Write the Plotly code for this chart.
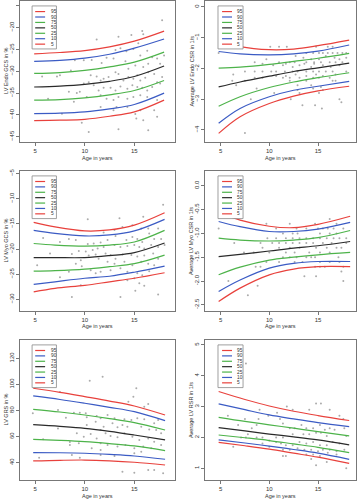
import plotly.graph_objects as go

# ---------------- data ----------------
percentiles = ["95", "90", "75", "50", "25", "10", "5"]
pct_colors = ["#e8413c", "#3b5bc4", "#4db34a", "#2a2a2a", "#4db34a", "#3b5bc4", "#e8413c"]

# Panel 1: LV Endo GCS in %
endo_gcs_ages = [4.9, 7.5, 10, 12.5, 15, 18.0]
endo_gcs_curves = [
    [-26.0, -25.7, -25.25, -24.4, -23.1, -20.8],
    [-27.75, -27.5, -27.0, -26.1, -24.7, -22.6],
    [-30.5, -30.3, -29.8, -29.0, -27.9, -25.6],
    [-33.6, -33.4, -33.0, -32.3, -31.2, -28.8],
    [-36.6, -36.5, -36.1, -35.4, -34.4, -32.1],
    [-39.7, -39.6, -39.3, -38.6, -37.6, -35.0],
    [-41.3, -41.2, -41.0, -40.3, -39.3, -36.6],
]
endo_gcs_points = [
    (17.8, -18.3), (15.8, -20.8), (15.9, -21.5), (14.7, -21.7), (13.4, -22.1), (11.2, -22.7),
    (13.1, -25.1), (13.6, -24.7), (14.2, -25.4), (14.9, -24.9), (15.4, -23.6), (15.6, -26.4),
    (16.3, -25.3), (16.8, -26.8), (17.3, -27.1), (17.6, -28.3), (18.0, -26.4), (16.4, -28.3),
    (15.9, -29.0), (15.1, -28.7), (14.4, -29.4), (14.1, -27.7), (12.9, -27.1), (12.2, -26.9),
    (11.7, -28.1), (10.7, -27.4), (9.9, -27.5), (9.0, -27.5), (8.6, -29.8), (7.5, -30.9),
    (7.2, -31.2), (5.7, -31.2), (10.6, -30.9), (11.2, -31.2), (11.6, -32.1), (11.9, -31.7),
    (12.4, -31.3), (13.1, -30.2), (13.4, -30.6), (13.9, -32.1), (14.4, -31.3), (14.9, -31.7),
    (15.3, -30.9), (15.6, -32.1), (16.1, -31.5), (16.4, -30.2), (17.0, -30.6), (17.3, -32.5),
    (17.6, -32.8), (17.8, -31.3), (16.8, -33.6), (16.3, -34.4), (15.8, -33.8), (15.3, -33.6),
    (14.8, -33.2), (14.3, -34.0), (13.6, -33.5), (13.1, -34.4), (12.6, -33.8), (11.9, -33.8),
    (11.4, -34.4), (10.9, -33.2), (10.4, -32.5), (9.9, -32.8), (9.5, -34.7), (9.2, -35.0),
    (8.4, -34.7), (6.3, -36.3), (8.9, -37.0), (10.2, -35.9), (11.6, -35.5), (12.2, -36.3),
    (12.9, -36.6), (13.4, -35.9), (14.3, -36.3), (14.9, -35.9), (15.6, -35.5), (16.3, -35.9),
    (17.3, -36.6), (13.2, -38.2), (12.9, -38.9), (11.6, -38.2), (14.3, -38.2), (15.1, -39.8),
    (15.2, -40.8), (15.9, -41.2), (17.3, -40.4), (9.7, -41.8), (10.4, -43.9), (13.4, -43.3),
    (16.4, -43.5), (7.7, -39.7), (15.6, -38.9), (17.0, -38.9),
]

# Panel 2: Average LV Endo CSR in 1/s
endo_csr_ages = [4.8, 7, 10, 12.5, 15, 18.2]
endo_csr_curves = [
    [-1.10, -1.29, -1.39, -1.37, -1.26, -1.08],
    [-1.45, -1.53, -1.56, -1.53, -1.44, -1.24],
    [-1.99, -1.96, -1.87, -1.77, -1.67, -1.51],
    [-2.60, -2.44, -2.25, -2.10, -1.98, -1.83],
    [-3.23, -2.92, -2.62, -2.44, -2.30, -2.14],
    [-3.78, -3.30, -2.92, -2.71, -2.58, -2.42],
    [-4.11, -3.57, -3.14, -2.90, -2.73, -2.58],
]
endo_csr_points = [
    (10.1, -1.3), (11.0, -1.3), (11.8, -1.3), (14.8, -1.3), (16.0, -1.3), (16.5, -1.3),
    (13.8, -1.5), (14.5, -1.5), (15.1, -1.5), (15.5, -1.5), (16.0, -1.5), (16.5, -1.5),
    (17.0, -1.5), (17.5, -1.5), (17.9, -1.5), (4.8, -1.5),
    (12.7, -1.6), (13.5, -1.65), (14.3, -1.7), (15.1, -1.7), (15.8, -1.6), (16.7, -1.65),
    (17.2, -1.7), (17.9, -1.65), (9.7, -1.7),
    (11.0, -1.8), (12.1, -1.8), (12.6, -1.8), (13.8, -1.8), (14.6, -1.8), (15.3, -1.8),
    (16.2, -1.8), (16.8, -1.8), (17.5, -1.8), (8.5, -1.8),
    (10.4, -1.9), (11.4, -1.9), (11.7, -1.85), (12.4, -1.95), (13.1, -1.9), (13.6, -1.85),
    (14.3, -1.95), (14.6, -1.85), (15.5, -1.9), (16.3, -1.95), (17.2, -1.9), (9.3, -1.85),
    (7.5, -2.1), (8.5, -2.1), (9.3, -2.1), (10.2, -2.1), (10.7, -2.1), (11.6, -2.1),
    (12.4, -2.1), (12.9, -2.1), (13.8, -2.1), (14.5, -2.1), (15.1, -2.1), (15.8, -2.1),
    (16.5, -2.1), (17.9, -2.1),
    (6.3, -2.2), (10.7, -2.25), (11.7, -2.25), (12.7, -2.2), (13.8, -2.25), (14.8, -2.2),
    (15.5, -2.25), (16.8, -2.2),
    (8.5, -2.3), (9.3, -2.3), (11.4, -2.3), (12.1, -2.3), (13.1, -2.3), (14.5, -2.3),
    (15.1, -2.3), (16.2, -2.3),
    (6.2, -2.4), (7.5, -2.4), (12.1, -2.4), (13.8, -2.4), (16.5, -2.4), (16.8, -2.4),
    (6.6, -2.55), (12.9, -2.55), (14.3, -2.55), (15.3, -2.6),
    (12.9, -2.7), (14.5, -2.65), (15.5, -2.7), (8.7, -2.65),
    (10.5, -2.8), (13.1, -2.8), (15.1, -2.8),
    (8.1, -3.0), (12.2, -3.0), (17.2, -3.0), (17.4, -3.1),
    (13.4, -3.2), (14.7, -3.2), (15.4, -3.3), (7.5, -4.1),
]

# Panel 3: LV Myo GCS in %
myo_gcs_ages = [4.85, 7, 10, 12.5, 15, 18.05]
myo_gcs_curves = [
    [-14.7, -15.6, -16.4, -16.2, -15.25, -12.8],
    [-16.3, -16.9, -17.4, -17.2, -16.4, -14.1],
    [-18.9, -19.2, -19.4, -19.2, -18.6, -16.3],
    [-21.7, -21.7, -21.7, -21.3, -20.7, -18.8],
    [-24.4, -24.3, -24.0, -23.5, -22.9, -21.2],
    [-27.0, -26.5, -25.8, -25.4, -24.6, -23.4],
    [-28.5, -27.8, -27.2, -26.5, -25.8, -24.7],
]
myo_gcs_points = [
    (17.9, -11.2), (15.9, -13.6), (13.5, -13.9), (10.3, -14.1), (14.8, -15.25), (13.8, -15.6),
    (16.4, -15.9), (17.4, -15.9), (15.7, -15.9), (13.0, -16.2), (11.9, -16.7), (8.4, -18.0),
    (5.8, -17.8), (7.5, -18.6), (9.1, -18.2), (10.3, -19.0), (10.9, -18.9), (11.6, -18.7),
    (12.3, -18.2), (13.1, -17.4), (14.2, -18.2), (14.8, -17.6), (15.3, -18.0), (15.8, -18.6),
    (16.5, -16.9), (17.0, -18.0), (17.7, -18.0), (18.05, -19.2), (13.6, -19.6), (14.3, -19.4),
    (15.0, -19.2), (15.5, -19.6), (16.0, -19.9), (16.7, -19.2), (17.4, -19.6), (13.0, -19.2),
    (11.9, -19.6), (11.3, -19.9), (10.8, -20.2), (10.1, -20.5), (9.4, -20.4), (6.5, -20.9),
    (8.7, -21.0), (9.6, -22.2), (10.4, -21.3), (11.1, -21.1), (11.4, -21.9), (12.1, -20.9),
    (12.6, -21.2), (13.1, -21.9), (13.8, -21.1), (14.7, -21.2), (15.3, -21.5), (16.0, -21.3),
    (16.9, -20.9), (17.4, -21.9), (12.3, -22.5), (13.0, -22.9), (14.0, -22.5), (14.8, -23.2),
    (15.7, -22.5), (16.4, -22.9), (17.0, -23.2), (9.1, -22.9), (9.7, -23.4), (13.6, -23.8),
    (14.3, -24.5), (15.3, -24.8), (15.8, -25.2), (16.5, -24.4), (8.4, -24.5), (7.5, -25.6),
    (10.6, -24.2), (11.6, -24.5), (12.6, -24.2), (15.0, -25.8), (15.5, -26.8), (16.0, -27.3),
    (14.3, -26.2), (9.6, -27.2), (15.1, -28.3), (17.4, -29.0), (8.7, -29.5), (13.6, -29.5),
    (11.1, -24.8), (5.2, -23.2),
]

# Panel 4: Average LV Myo CSR in 1/s
myo_csr_ages = [4.8, 7, 10, 12.5, 15, 18.3]
myo_csr_curves = [
    [-0.56, -0.72, -0.85, -0.88, -0.81, -0.64],
    [-0.75, -0.86, -0.96, -0.96, -0.91, -0.77],
    [-1.10, -1.14, -1.16, -1.14, -1.09, -0.94],
    [-1.49, -1.44, -1.37, -1.31, -1.26, -1.17],
    [-1.87, -1.71, -1.56, -1.50, -1.45, -1.40],
    [-2.22, -1.98, -1.73, -1.63, -1.59, -1.59],
    [-2.43, -2.15, -1.87, -1.75, -1.70, -1.70],
]
myo_csr_points = [
    (16.2, -0.7),
    (9.7, -0.8), (12.1, -0.8), (14.7, -0.8), (16.9, -0.8),
    (10.7, -0.9), (12.8, -0.9), (13.8, -0.9), (15.0, -0.9), (15.5, -0.9), (16.0, -0.9),
    (16.6, -0.9), (17.6, -0.9), (4.8, -0.9),
    (11.4, -1.0), (12.4, -1.0), (12.9, -1.0), (15.2, -1.0), (16.2, -1.0), (16.9, -1.0),
    (9.8, -1.1), (10.7, -1.1), (11.7, -1.1), (12.4, -1.1), (13.1, -1.1), (13.8, -1.1),
    (14.5, -1.1), (15.2, -1.1), (15.9, -1.1), (16.6, -1.1), (17.2, -1.1), (17.9, -1.1),
    (6.4, -1.2), (10.3, -1.2), (11.0, -1.2), (11.7, -1.2), (12.4, -1.2), (13.1, -1.2),
    (13.8, -1.2), (14.5, -1.2), (15.5, -1.2), (16.4, -1.2), (17.9, -1.2), (9.1, -1.2),
    (9.3, -1.3), (11.0, -1.3), (12.1, -1.3), (13.1, -1.3), (14.8, -1.3), (15.9, -1.3),
    (16.9, -1.3), (17.4, -1.3),
    (7.4, -1.4), (8.4, -1.4), (10.0, -1.4), (11.7, -1.4), (12.6, -1.4), (14.1, -1.4),
    (15.2, -1.4), (16.2, -1.4),
    (11.4, -1.5), (12.1, -1.5), (12.8, -1.5), (13.8, -1.5), (14.3, -1.5), (14.7, -1.5), (17.1, -1.5),
    (9.7, -1.6), (11.0, -1.6), (12.6, -1.6), (13.4, -1.6), (15.2, -1.6), (16.2, -1.6), (17.2, -1.6),
    (8.6, -1.7), (9.1, -1.7), (14.7, -1.7), (15.2, -1.7), (15.7, -1.7), (17.6, -1.7),
    (17.4, -1.8), (13.6, -1.9), (14.8, -1.9), (5.8, -2.0), (17.6, -2.0), (8.8, -2.1), (7.8, -2.3),
]

# Panel 5: LV GRS in %
grs_ages = [4.8, 7.5, 10, 12.5, 15, 18.1]
grs_curves = [
    [97.0, 93.9, 90.6, 87.2, 83.4, 76.5],
    [91.1, 88.4, 85.5, 82.4, 79.1, 72.2],
    [80.9, 78.8, 76.5, 73.8, 70.7, 65.0],
    [69.1, 67.8, 66.3, 64.0, 61.2, 57.4],
    [57.9, 57.1, 56.1, 54.6, 52.8, 49.2],
    [47.7, 47.6, 47.2, 46.3, 45.1, 42.6],
    [41.3, 41.8, 42.0, 41.4, 40.3, 38.2],
]
grs_points = [
    (11.8, 105.9), (10.5, 102.8), (15.2, 97.0), (14.9, 90.6), (14.4, 86.7), (16.4, 85.0),
    (16.0, 82.9), (7.5, 94.2), (4.76, 77.8), (7.3, 80.4), (9.5, 78.3), (8.9, 78.3),
    (10.1, 77.8), (11.2, 75.8), (10.2, 74.7), (11.6, 74.0), (12.3, 76.5), (13.0, 74.0),
    (14.0, 73.2), (14.7, 72.7), (15.3, 74.0), (16.0, 73.2), (17.0, 70.1), (17.4, 72.7),
    (8.1, 74.5), (12.8, 70.1), (13.3, 67.1), (13.8, 68.9), (14.3, 67.6), (15.7, 67.6),
    (16.5, 65.5), (17.2, 65.0), (17.7, 62.5), (7.3, 66.1), (10.2, 68.9), (11.1, 71.4),
    (11.6, 65.0), (11.9, 67.6), (9.2, 62.5), (9.9, 59.9), (10.6, 62.0), (11.2, 58.6),
    (12.1, 62.5), (12.6, 60.4), (13.3, 59.4), (14.0, 62.5), (14.8, 59.9), (15.5, 57.4),
    (16.4, 58.6), (17.0, 56.1), (17.7, 53.5), (8.5, 55.8), (9.4, 54.8), (11.6, 54.8),
    (12.3, 53.5), (13.3, 52.3), (14.1, 53.5), (15.0, 51.0), (15.9, 52.3), (16.7, 51.0),
    (5.8, 57.9), (8.7, 45.9), (9.5, 43.8), (11.6, 45.9), (13.0, 45.1), (15.0, 47.2),
    (15.7, 48.4), (5.4, 43.8), (13.8, 33.1), (15.0, 32.3), (16.4, 34.4), (17.0, 34.4),
    (17.9, 31.8), (8.5, 53.5), (10.7, 51.0), (11.6, 49.7),
]

# Panel 6: Average LV RSR in 1/s
rsr_ages = [4.8, 7.5, 10, 12.5, 15, 18.2]
rsr_curves = [
    [3.49, 3.23, 3.02, 2.85, 2.71, 2.55],
    [3.09, 2.90, 2.73, 2.60, 2.48, 2.35],
    [2.65, 2.52, 2.41, 2.30, 2.19, 2.05],
    [2.32, 2.21, 2.11, 2.02, 1.92, 1.76],
    [2.08, 1.99, 1.90, 1.79, 1.68, 1.51],
    [1.92, 1.82, 1.72, 1.61, 1.49, 1.29],
    [1.84, 1.73, 1.62, 1.49, 1.36, 1.16],
]
rsr_points = [
    (14.8, 3.1), (15.3, 3.1), (11.8, 3.0), (14.1, 2.9), (16.2, 2.9), (9.0, 2.9), (10.8, 2.8),
    (12.4, 2.9), (5.75, 2.7), (7.5, 2.6), (8.9, 2.6), (9.9, 2.7), (17.2, 2.7), (17.6, 2.6),
    (6.8, 2.4), (8.2, 2.3), (8.7, 2.4), (11.4, 2.45), (12.1, 2.3), (12.6, 2.3), (13.3, 2.4),
    (13.8, 2.3), (14.5, 2.3), (15.2, 2.4), (15.7, 2.25), (16.2, 2.3), (16.7, 2.25), (17.7, 2.3),
    (17.9, 2.05), (15.9, 2.05), (15.3, 2.15), (14.8, 2.15), (14.1, 2.1), (13.5, 2.1), (12.4, 2.1),
    (11.4, 2.0), (10.7, 2.0), (10.0, 1.9), (9.3, 2.0), (8.7, 2.0), (7.6, 2.0), (7.1, 2.0),
    (6.3, 1.7), (7.8, 2.1), (9.3, 1.8), (10.7, 1.85), (11.2, 1.8), (11.7, 1.75), (12.4, 1.75),
    (13.1, 1.85), (13.8, 1.8), (14.5, 1.85), (15.2, 1.75), (15.9, 1.75), (16.5, 1.85), (17.2, 1.8),
    (17.7, 1.6), (16.9, 1.55), (16.2, 1.6), (15.5, 1.6), (15.0, 1.55), (14.3, 1.6), (13.6, 1.6),
    (12.9, 1.65), (12.1, 1.6), (11.4, 1.6), (14.5, 1.45), (13.8, 1.45), (15.2, 1.4), (16.0, 1.5),
    (16.9, 1.45), (11.4, 1.4), (11.7, 1.4), (14.3, 1.3), (15.9, 1.2), (14.8, 1.1), (17.9, 1.0),
    (11.1, 2.6), (10.0, 1.7), (7.6, 4.4),
]

y_titles = ["LV Endo GCS in %", "Average LV Endo CSR in 1/s", "LV Myo GCS in %",
            "Average LV Myo CSR in 1/s", "LV GRS in %", "Average LV RSR in 1/s"]
x_title = "Age in years"
x_ticks = [5, 10, 15]
y_ticks = [
    [-45, -40, -35, -30, -25, -20, -15],
    [-4, -3, -2, -1, 0],
    [-30, -25, -20, -15, -10, -5],
    [-2.5, -2.0, -1.5, -1.0, -0.5, 0.0],
    [40, 60, 80, 100, 120],
    [1, 2, 3, 4, 5],
]
y_tick_text = [
    None, None, None,
    ["-2.5", "-2.0", "-1.5", "-1.0", "-0.5", "0.0"],
    None, None,
]

panels = [
    (endo_gcs_ages, endo_gcs_curves, endo_gcs_points),
    (endo_csr_ages, endo_csr_curves, endo_csr_points),
    (myo_gcs_ages, myo_gcs_curves, myo_gcs_points),
    (myo_csr_ages, myo_csr_curves, myo_csr_points),
    (grs_ages, grs_curves, grs_points),
    (rsr_ages, rsr_curves, rsr_points),
]

# ---------------- layout ----------------
W, H = 361, 500
x_domains = [[20 / W, 175 / W], [205 / W, 356 / W]]
y_domains = [[1 - 142 / H, 1 - 1 / H], [1 - 311 / H, 1 - 171 / H], [1 - 480 / H, 1 - 340 / H]]
x_ranges = [[3.47, 19.1], [3.4, 18.9]]
y_ranges = [[-46.2, -13.9], [-4.39, 0.19], [-32.3, -4.5], [-2.63, 0.31], [26.7, 134], [0.62, 5.16]]
x_title_shift = [-16, -15, -16]

FONT = "Liberation Sans, Arial, sans-serif"
AXC = "#555555"
TXT = "#333333"

fig = go.Figure()
layout = dict(width=W, height=H, margin=dict(l=0, r=0, t=0, b=0), autosize=False,
              paper_bgcolor="white", plot_bgcolor="white", showlegend=False,
              font=dict(family=FONT, size=6, color=TXT))
annotations = []
shapes = []

for i, (ages, curves, pts) in enumerate(panels):
    row, col = divmod(i, 2)
    n = "" if i == 0 else str(i + 1)
    xa, ya = "x" + n, "y" + n
    px = [p[0] for p in pts]
    py = [p[1] for p in pts]
    fig.add_trace(go.Scatter(x=px, y=py, mode="markers", xaxis=xa, yaxis=ya,
                             marker=dict(size=2, color="#ababab"), hoverinfo="skip"))
    for k, vals in enumerate(curves):
        fig.add_trace(go.Scatter(x=ages, y=vals, mode="lines", xaxis=xa, yaxis=ya,
                                 name=percentiles[k],
                                 line=dict(color=pct_colors[k], width=1.2, shape="spline")))
    axis_common = dict(showgrid=False, zeroline=False, showline=True, mirror=True,
                       linecolor=AXC, linewidth=0.8, ticks="outside", ticklen=3,
                       tickcolor=AXC, tickwidth=0.8, automargin=False,
                       tickfont=dict(size=6, color=TXT, family=FONT))
    layout["xaxis" + n] = dict(axis_common, domain=x_domains[col], range=x_ranges[col],
                               anchor=ya, tickvals=x_ticks)
    yd = dict(axis_common, domain=y_domains[row], range=y_ranges[i], anchor=xa,
              tickvals=y_ticks[i], tickangle=-90)
    if y_tick_text[i] is not None:
        yd["ticktext"] = y_tick_text[i]
    layout["yaxis" + n] = yd

    # axis titles
    annotations.append(dict(text=x_title, xref=xa + " domain", yref=ya + " domain",
                            x=0.5, y=0, yshift=x_title_shift[row], showarrow=False,
                            xanchor="center", yanchor="middle", borderpad=0,
                            font=dict(size=5.5, color=TXT, family=FONT)))
    title_x = (5.5 if col == 0 else 191) / W
    annotations.append(dict(text=y_titles[i], xref="paper", yref=ya + " domain",
                            x=title_x, y=0.5, showarrow=False, textangle=-90,
                            xanchor="center", yanchor="middle",
                            font=dict(size=5.5, color=TXT, family=FONT)))

    # legend drawn inside each panel (upper left)
    if col == 0:
        bx0, bx1, lx0, lx1, tx = 0.078, 0.235, 0.098, 0.162, 0.185
    else:
        bx0, bx1, lx0, lx1, tx = 0.086, 0.252, 0.113, 0.179, 0.199
    shapes.append(dict(type="rect", xref=xa + " domain", yref=ya + " domain",
                       x0=bx0, x1=bx1, y0=0.66, y1=0.965,
                       line=dict(color="#888888", width=0.8), fillcolor="white"))
    for k, lab in enumerate(percentiles):
        yy = 0.925 - k * 0.0385
        shapes.append(dict(type="line", xref=xa + " domain", yref=ya + " domain",
                           x0=lx0, x1=lx1, y0=yy, y1=yy,
                           line=dict(color=pct_colors[k], width=1.2)))
        annotations.append(dict(text=lab, xref=xa + " domain", yref=ya + " domain",
                                x=tx, y=yy, showarrow=False, xanchor="left",
                                yanchor="middle",
                                font=dict(size=4.8, color=TXT, family=FONT)))

layout["annotations"] = annotations
layout["shapes"] = shapes
fig.update_layout(**layout)
fig.write_html("out.html",
               config={"displayModeBar": False, "staticPlot": True},
               post_script="document.body.style.margin='0px';document.body.style.overflow='hidden';")
